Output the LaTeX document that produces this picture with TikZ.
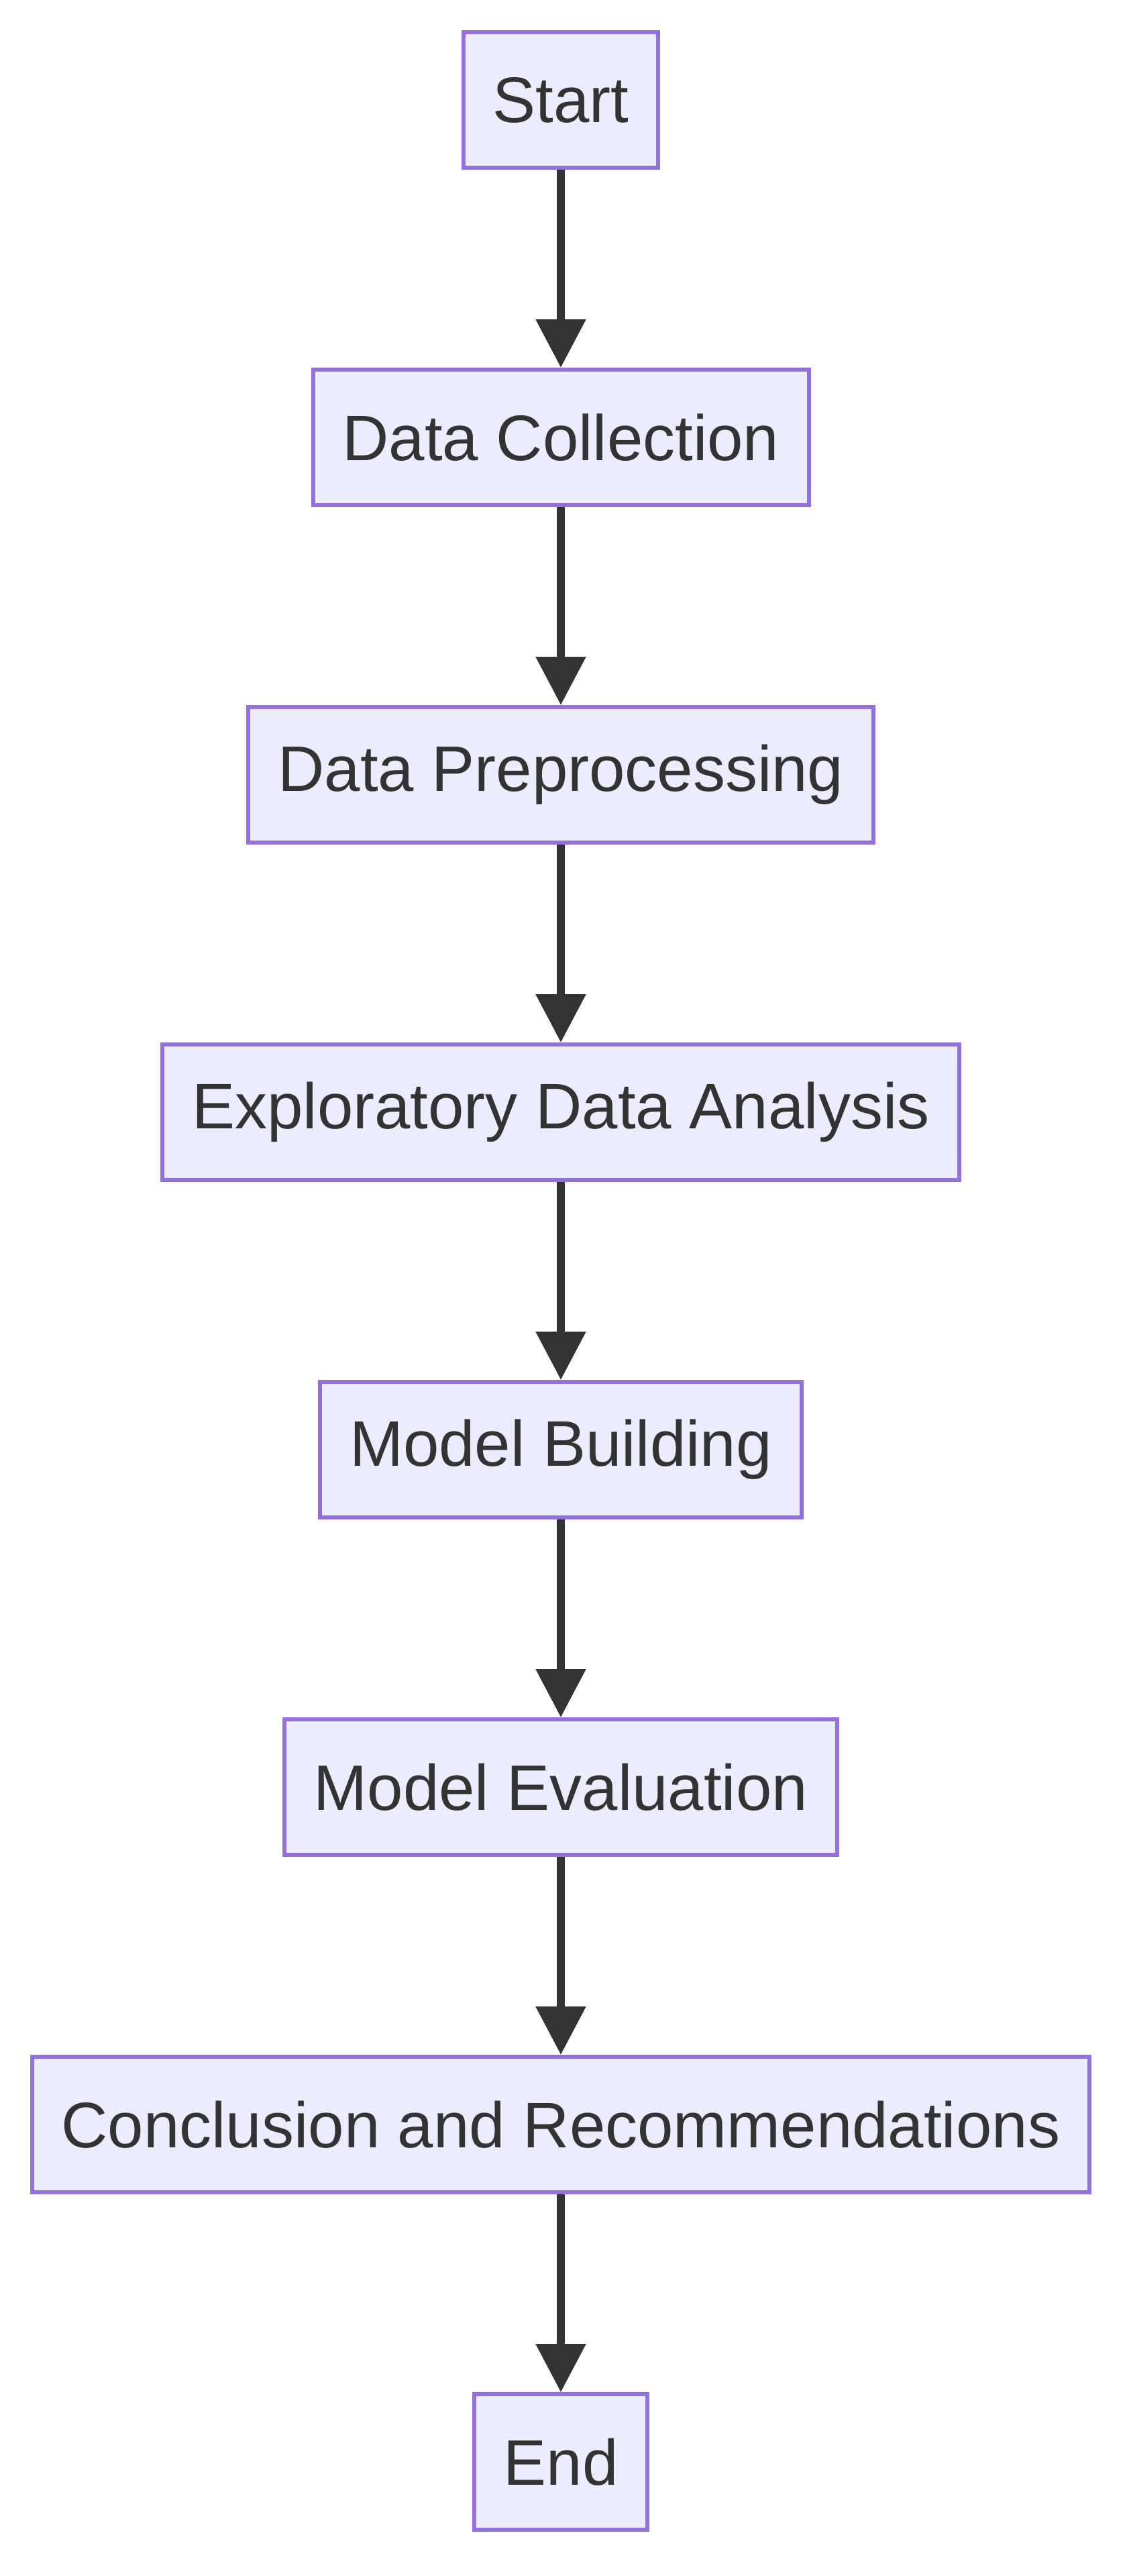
\documentclass[tikz,border=0pt]{standalone}
\usepackage{fontspec}
\setmainfont{Liberation Sans}
\usetikzlibrary{arrows.meta}
\definecolor{boxfill}{HTML}{ECECFF}
\definecolor{boxline}{HTML}{9370DB}
\definecolor{ink}{HTML}{333333}
\tikzset{
  stepbox/.style={draw=boxline, fill=boxfill, line width=3pt, rectangle,
    minimum height=101pt, inner xsep=22pt, inner ysep=0pt,
    text=ink, font=\fontsize{48}{57}\selectfont},
  arr/.style={draw=ink, line width=6pt, -{Triangle[length=36pt,width=36pt]}}
}
\begin{document}
\begin{tikzpicture}
\fill[white] (0pt,0pt) rectangle (840pt,-1920pt);
\useasboundingbox (0pt,0pt) rectangle (840pt,-1920pt);
\node[stepbox] (start) at (418pt,-74.5pt) {Start};
\node[stepbox] (dc) at (418pt,-326pt) {Data Collection};
\node[stepbox] (dp) at (418pt,-577.5pt) {Data Preprocessing};
\node[stepbox] (eda) at (418pt,-829pt) {Exploratory Data Analysis};
\node[stepbox] (mb) at (418pt,-1080.5pt) {Model Building};
\node[stepbox] (me) at (418pt,-1332pt) {Model Evaluation};
\node[stepbox] (cr) at (418pt,-1583.5pt) {Conclusion and Recommendations};
\node[stepbox] (end) at (418pt,-1835pt) {End};
\draw[arr] (start) -- (dc);
\draw[arr] (dc) -- (dp);
\draw[arr] (dp) -- (eda);
\draw[arr] (eda) -- (mb);
\draw[arr] (mb) -- (me);
\draw[arr] (me) -- (cr);
\draw[arr] (cr) -- (end);
\end{tikzpicture}
\end{document}
